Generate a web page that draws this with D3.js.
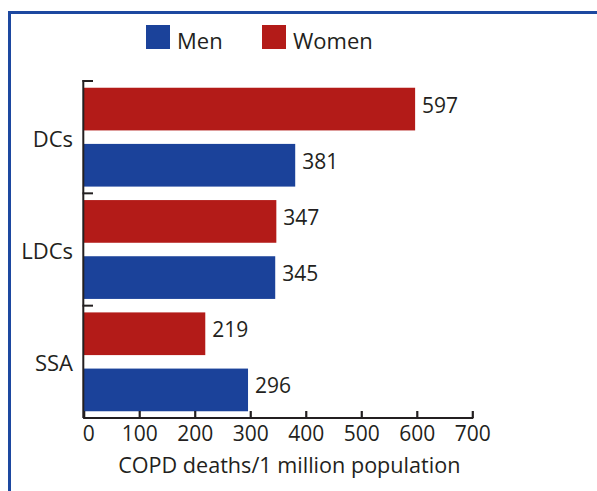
<!DOCTYPE html>
<html><head><meta charset="utf-8">
<script src="https://cdn.jsdelivr.net/npm/d3@7"></script>
<style>
html,body{margin:0;padding:0;background:#fff;}
svg{display:block;}
text{font-family:"Open Sans",sans-serif;fill:#231f20;}
</style></head>
<body>
<script>
const categories = ["DCs", "LDCs", "SSA"];
const seriesNames = ["Women", "Men"];
const women = [597, 347, 219];
const men = [381, 345, 296];
const xTicks = [0, 100, 200, 300, 400, 500, 600, 700];
const xTitle = "COPD deaths/1 million population";
const legendOrder = ["Men", "Women"];

const W = 597, H = 491;
const colors = {Men: "#1b429a", Women: "#b31b18"};
const ink = "#231f20";

const svg = d3.select("body").append("svg").attr("width", W).attr("height", H);

// frame
svg.append("path")
  .attr("d", `M9.5,${H} V12.5 H${W}`)
  .attr("fill", "none").attr("stroke", "#1d48a0").attr("stroke-width", 3);

const x = d3.scaleLinear().domain([0, 700]).range([83.7, 472.3]);
const y = d3.scaleBand().domain(categories).range([81, 418]).padding(0);
const ySub = d3.scaleBand().domain(seriesNames).range([0, y.bandwidth()])
  .paddingInner(0.24).paddingOuter(0.12);

const data = categories.map((c, i) => ({cat: c, Women: women[i], Men: men[i]}));

const groups = svg.append("g").selectAll("g").data(data).join("g")
  .attr("transform", d => `translate(0,${y(d.cat)})`);

groups.selectAll("rect").data(d => seriesNames.map(s => ({s, v: d[s]}))).join("rect")
  .attr("x", x(0))
  .attr("y", d => ySub(d.s))
  .attr("width", d => x(d.v) - x(0))
  .attr("height", ySub.bandwidth())
  .attr("fill", d => colors[d.s]);

groups.selectAll("text.val").data(d => seriesNames.map(s => ({s, v: d[s]}))).join("text")
  .attr("class", "val")
  .attr("x", d => x(d.v) + 7)
  .attr("y", d => ySub(d.s) + ySub.bandwidth() / 2 + 3.5)
  .attr("font-size", 21)
  .text(d => d.v);

// x axis
const xAxis = d3.axisBottom(x).tickValues(xTicks).tickSizeInner(-7).tickSizeOuter(0).tickPadding(8);
const gx = svg.append("g").attr("transform", "translate(0,418)").call(xAxis);
gx.select(".domain").attr("stroke", ink).attr("stroke-width", 2.2).attr("d", `M${x(0)-0.6},0H${x(700)+1}`);
gx.selectAll(".tick line").attr("stroke", ink).attr("stroke-width", 2.2);
gx.selectAll(".tick text").attr("font-size", 21).attr("font-family", '"Open Sans",sans-serif').attr("fill", ink)
  .attr("dx", d => d === 0 ? 4.5 : 0);

// y axis
const gy = svg.append("g");
gy.append("line").attr("x1", 83.3).attr("x2", 83.3).attr("y1", y.range()[0] - 1).attr("y2", 418)
  .attr("stroke", ink).attr("stroke-width", 2);
gy.selectAll("line.yt").data(categories).join("line").attr("class", "yt")
  .attr("x1", 82.5).attr("x2", 93).attr("y1", d => y(d)).attr("y2", d => y(d))
  .attr("stroke", ink).attr("stroke-width", 2);
gy.selectAll("text").data(categories).join("text")
  .attr("x", 73).attr("y", d => y(d) + y.bandwidth() / 2 + 9.5)
  .attr("text-anchor", "end").attr("font-size", 22).text(d => d);

// x title
svg.append("text").attr("x", 289.3).attr("y", 472.5).attr("text-anchor", "middle")
  .attr("font-size", 21.6).text(xTitle);

// legend
const legendX = {Men: 146, Women: 262};
const lg = svg.append("g").selectAll("g").data(legendOrder).join("g")
  .attr("transform", d => `translate(${legendX[d]},25)`);
lg.append("rect").attr("width", 24).attr("height", 24).attr("fill", d => colors[d]);
lg.append("text").attr("x", 31).attr("y", 23.5).attr("font-size", 22).text(d => d);
</script>
</body></html>
